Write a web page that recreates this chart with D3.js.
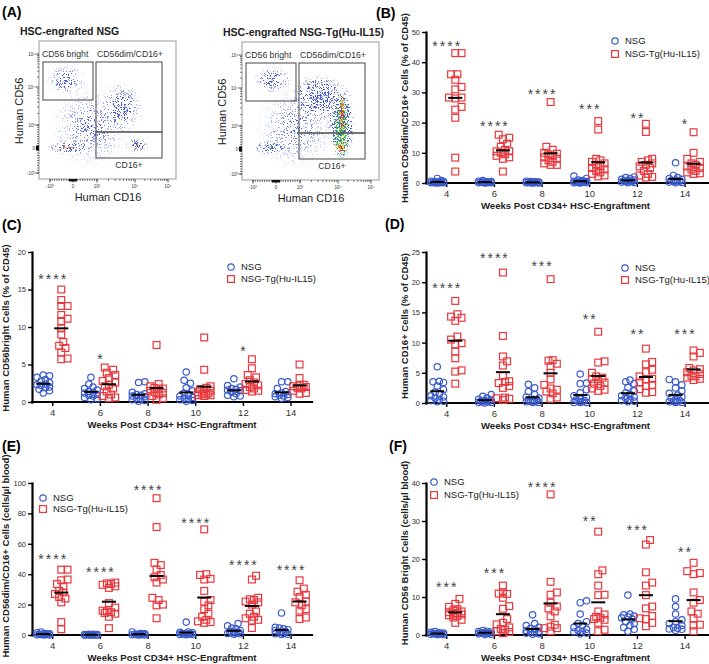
<!DOCTYPE html>
<html>
<head>
<meta charset="utf-8">
<script src="https://cdn.jsdelivr.net/npm/d3@7"></script>
<style>
  body { margin: 0; background: #fff; }
  svg { display: block; font-family: "Liberation Sans", Arial, sans-serif; }
</style>
</head>
<body>
<svg id="fig" width="709" height="664"></svg>
<script>
const weeks = [4, 6, 8, 10, 12, 14];

// (B) CD56dim/CD16+ cells, % of CD45
const bNSG = [
  [1.5, 0.8, 0.6, 0.5, 0.4, 0.3, 0.3, 0.2, 0.2, 0.1, 0.1, 0.1, 0.1, 0.0],
  [0.8, 0.6, 0.5, 0.4, 0.3, 0.3, 0.2, 0.2, 0.1, 0.1, 0.1, 0.0],
  [0.6, 0.5, 0.4, 0.3, 0.3, 0.2, 0.2, 0.1, 0.1, 0.1, 0.0, 0.0],
  [2.3, 1.5, 1.0, 0.8, 0.6, 0.5, 0.4, 0.3, 0.3, 0.2, 0.2, 0.1, 0.1, 0.0],
  [2.0, 1.8, 1.5, 1.2, 1.0, 0.8, 0.7, 0.5, 0.5, 0.4, 0.3, 0.2, 0.1],
  [6.7, 2.5, 1.8, 1.5, 1.2, 1.0, 0.8, 0.6, 0.5, 0.4, 0.3, 0.2, 0.1]
];
const bIL15 = [
  [43, 43, 36, 36, 34.2, 31.8, 31, 28.3, 28.3, 28, 25.2, 24.3, 21.6, 8.4, 3.8],
  [16, 15, 14.5, 13, 12, 11, 10.5, 10.5, 10, 9.5, 9, 8.5, 8, 3.8],
  [26.8, 12, 11, 10, 9.7, 9.5, 9, 8.5, 8, 7.5, 7, 6.5, 6, 6],
  [20.5, 17.7, 8, 7.5, 7, 6.5, 6, 5.5, 5, 4.5, 4, 3.5, 3, 2.5, 2.2],
  [19.6, 16.9, 8, 7.5, 7, 6.5, 6, 5.5, 5, 4, 3, 2.5, 2, 1.8],
  [16.8, 10, 8, 7, 6.5, 6, 5.5, 5, 4.5, 4, 3.5, 3.2, 3]
];
const bStars = ["****", "****", "****", "***", "**", "*"];
const bStarY = [46.4, 19.9, 30.5, 25.5, 22.5, 20.5];

// (C) CD56bright cells, % of CD45
const cNSG = [
  [3.6, 3.5, 3.3, 3.0, 2.8, 2.6, 2.4, 2.3, 2.2, 2.0, 1.9, 1.7, 1.5, 1.2],
  [3.3, 2.4, 2.0, 1.8, 1.6, 1.4, 1.3, 1.2, 1.0, 0.9, 0.8, 0.6, 0.4, 0.3],
  [2.7, 2.6, 1.3, 1.1, 1.0, 0.9, 0.8, 0.7, 0.5, 0.4, 0.3, 0.2, 0.1],
  [4.0, 2.9, 2.5, 1.9, 1.5, 1.2, 1.0, 0.8, 0.6, 0.5, 0.4, 0.3, 0.2, 0.1],
  [3.1, 2.2, 2.0, 1.8, 1.7, 1.6, 1.5, 1.3, 1.1, 0.9, 0.8, 0.7],
  [2.7, 2.7, 1.8, 1.4, 1.2, 1.1, 1.0, 0.9, 0.8, 0.7, 0.6, 0.5]
];
const cIL15 = [
  [15, 13.6, 12.8, 12.8, 11.6, 11.1, 10.8, 9.8, 9, 8, 7.5, 7.2, 6.6, 5.8, 5.7],
  [4.6, 4.3, 3.9, 3.6, 3.2, 2.8, 2.6, 2.3, 2.1, 1.8, 1.4, 1.0, 0.8, 0.6, 0.5],
  [7.6, 2.4, 2.1, 1.9, 1.8, 1.7, 1.5, 1.3, 1.2, 1.0, 0.8, 0.5, 0.3],
  [8.6, 4.3, 2.1, 1.9, 1.7, 1.5, 1.4, 1.3, 1.2, 1.1, 1.0, 0.9, 0.9, 0.8],
  [5.7, 4.5, 3.6, 3.3, 2.9, 2.6, 2.4, 2.2, 2.0, 1.8, 1.6, 1.5, 1.4],
  [5.0, 3.2, 2.3, 2.2, 2.1, 2.0, 1.9, 1.8, 1.5, 1.2, 1.1]
];
const cStars = ["****", "*", "", "", "*", ""];
const cStarY = [16.8, 6.1, 0, 0, 7.2, 0];

// (D) CD16+ cells, % of CD45
const dNSG = [
  [6.0, 3.6, 3.5, 3.4, 2.8, 2.2, 1.8, 1.5, 1.2, 1.0, 0.8, 0.6, 0.4, 0.3, 0.2],
  [1.4, 1.1, 0.8, 0.6, 0.5, 0.4, 0.3, 0.3, 0.2, 0.2, 0.1, 0.1, 0.0],
  [3.1, 2.5, 1.9, 1.4, 1.0, 0.8, 0.6, 0.5, 0.4, 0.3, 0.2, 0.2, 0.1, 0.1],
  [4.8, 3.3, 3.2, 2.2, 1.7, 1.2, 0.9, 0.7, 0.5, 0.4, 0.3, 0.2, 0.1, 0.1, 0.1],
  [3.8, 3.5, 3.2, 2.6, 2.0, 1.7, 1.4, 1.2, 1.0, 0.8, 0.6, 0.4, 0.3, 0.2],
  [3.9, 3.5, 3.0, 2.5, 2.0, 1.6, 1.3, 1.0, 0.8, 0.6, 0.4, 0.3, 0.2, 0.2, 0.1, 0.1]
];
const dIL15 = [
  [16.9, 14.7, 14.3, 14.1, 13.6, 11.0, 10.5, 9.9, 9.7, 8.5, 7.4, 5.4, 5.2, 3.2],
  [21.6, 11.1, 7.7, 6.9, 6.2, 4.5, 3.6, 3.5, 3.3, 2.8, 2.5, 0.9, 0.8, 0.7, 0.5],
  [20.5, 7.1, 7.0, 6.5, 6.1, 5.0, 3.9, 3.0, 2.4, 2.2, 1.9, 1.6, 0.9, 0.7],
  [11.8, 6.9, 6.7, 5.0, 4.4, 4.2, 4.0, 3.6, 3.4, 3.2, 2.8, 2.4, 2.2, 2.0],
  [9.0, 6.8, 6.4, 5.5, 5.1, 4.4, 4.0, 3.9, 3.4, 3.0, 2.8, 2.3, 1.8, 1.7],
  [8.7, 8.3, 7.7, 5.8, 5.6, 5.4, 5.1, 4.8, 4.5, 4.4, 4.2, 4.0, 3.8]
];
const dStars = ["****", "****", "***", "**", "**", "***"];
const dStarY = [19.5, 24.5, 23.2, 14.4, 11.9, 11.9];

// (E) CD56dim/CD16+ cells per ul blood
const eNSG = [
  [2.0, 1.5, 1.0, 0.8, 0.6, 0.5, 0.4, 0.3, 0.2, 0.2, 0.1, 0.1],
  [0.5, 0.4, 0.3, 0.3, 0.2, 0.2, 0.1, 0.1, 0.1, 0.0, 0.0, 0.0],
  [2.0, 1.0, 0.8, 0.6, 0.5, 0.4, 0.3, 0.2, 0.2, 0.1, 0.1],
  [8.5, 2.0, 1.8, 1.5, 1.2, 1.0, 0.8, 0.6, 0.5, 0.4, 0.3, 0.2],
  [7.5, 6.0, 4.5, 4.0, 3.0, 2.5, 2.0, 1.8, 1.5, 1.2, 1.0, 0.8, 0.5],
  [14.5, 5.0, 4.5, 4.0, 3.5, 3.0, 2.5, 2.0, 1.5, 1.0, 0.8, 0.5, 0.3]
];
const eIL15 = [
  [43, 43, 36.5, 36, 33.5, 32, 29, 28, 27, 25, 24, 21.5, 8.5, 3.8],
  [34.5, 34, 33.5, 33, 32, 31, 21, 18, 16, 15.5, 15, 14.5, 14, 12, 4.5],
  [90, 71, 47.5, 46, 43, 39.5, 38, 36.5, 34.5, 24.5, 23, 20, 19.5, 11],
  [69.5, 40, 39.5, 37, 36.5, 29, 23, 22, 19.5, 17, 14, 12, 10, 9, 8.5, 8],
  [39, 36.5, 24.5, 23.5, 23, 22, 21.5, 20, 15.5, 14, 12, 11, 10, 9.5, 4.6],
  [36, 30.5, 28.5, 26.5, 25, 22, 21.5, 19.5, 17, 16, 11.5, 10.5]
];
const eStars = ["****", "****", "****", "****", "****", "****"];
const eStarY = [52, 43.4, 97.4, 75.7, 48, 44.7];

// (F) CD56 bright cells per ul blood
const fNSG = [
  [0.9, 0.7, 0.6, 0.5, 0.4, 0.4, 0.3, 0.3, 0.2, 0.2, 0.1, 0.1],
  [1.2, 1.0, 0.9, 0.8, 0.7, 0.6, 0.5, 0.5, 0.4, 0.3, 0.2, 0.1],
  [5.3, 3.0, 2.5, 2.0, 1.7, 1.5, 1.2, 1.0, 0.8, 0.6, 0.5, 0.3, 0.2],
  [9.0, 8.5, 5.5, 3.5, 3.0, 2.5, 2.0, 1.5, 1.2, 1.0, 0.8, 0.5, 0.3],
  [10.5, 5.5, 5.3, 5.0, 4.8, 4.5, 4.2, 3.5, 3.0, 2.5, 2.0, 1.5, 1.0],
  [9.5, 7.5, 5.5, 4.0, 3.5, 3.0, 2.5, 2.0, 1.8, 1.6, 1.5, 1.2]
];
const fIL15 = [
  [9.5, 8.2, 7.4, 6.8, 6.5, 6.2, 6.0, 5.8, 5.6, 5.4, 5.2, 5.0, 4.6, 4.0, 3.2],
  [13.0, 11.2, 10.9, 10.8, 9.8, 7.6, 6.9, 4.2, 3.2, 2.8, 2.0, 1.6, 1.4, 1.0, 0.8, 0.5],
  [37, 14, 11.2, 10.6, 8.5, 7.5, 7.0, 6.2, 4.9, 2.7, 2.2, 1.8, 1.8, 1.0],
  [27.2, 17, 16, 13, 10.6, 10.5, 6.2, 5.4, 4.8, 4.5, 4.2, 4.0, 3.2, 1.4, 1.0],
  [25, 23.8, 16.5, 13.8, 13.0, 10.5, 7.5, 7.0, 5.0, 4.4, 4.2, 3.2, 2.3],
  [19, 16.8, 16.3, 16, 11.2, 9.2, 8.5, 6.2, 5.6, 4.4, 2.7, 2.5, 1.0]
];
const fStars = ["***", "***", "****", "**", "***", "**"];
const fStarY = [13.4, 17.1, 39.7, 30.8, 28.4, 22.6];

// (A) flow plots: density clouds, in decade units of the biexponential axes
// [cd16, cd56, spread16, spread56, density, colour]
const flowTicks = [-1, 0, 1, 2, 3];
const flowTickLabels = ["-10\u00b3", "0", "10\u00b3", "10\u2074", "10\u2075"];
const nsgClouds = [
  [0.7, 0.9, 1.4, 1.4, 0.3, "blue"],
  [-0.3, 2.2, 0.9, 0.45, 0.5, "blue"],
  [-0.15, 0.02, 1.05, 0.3, 0.6, "blue"],
  [-0.25, 0.02, 0.4, 0.12, 0.5, "orange"],
  [1.65, 1.45, 0.6, 0.8, 0.45, "blue"],
  [2.05, 0.12, 0.35, 0.3, 0.65, "blue"],
  [2.08, 0.08, 0.12, 0.14, 0.6, "orange"]
];
const il15Clouds = [
  [0.8, 0.9, 1.4, 1.4, 0.3, "blue"],
  [-0.15, 2.25, 0.85, 0.4, 0.55, "blue"],
  [-0.25, 0.05, 0.75, 0.3, 0.7, "blue"],
  [-0.2, 0.05, 0.3, 0.12, 0.6, "green"],
  [1.5, 1.75, 0.8, 0.65, 0.85, "blue"],
  [2.1, 1.1, 0.4, 1.35, 1.0, "blue"],
  [2.1, 1.0, 0.28, 1.15, 1.0, "green"],
  [2.12, 1.2, 0.16, 0.85, 0.9, "yellow"],
  [2.12, 1.3, 0.08, 0.5, 0.65, "red"],
  [2.1, 0.1, 0.25, 0.32, 1.0, "yellow"],
  [2.1, 0.05, 0.14, 0.2, 0.9, "red"],
  [2.12, 1.5, 0.07, 0.35, 0.65, "orange"]
];

const blue = "#3b5bcc", red = "#e8383d";
const svg = d3.select("#fig");
const defs = svg.append("defs");

// ---------- panel A ----------
const cloudColors = { blue: "#4658e0", green: "#2fb84a", yellow: "#e2d81e", orange: "#f08c1e", red: "#e02222" };
const grad = defs.append("radialGradient").attr("id", "fall");
[[0, 1], [0.3, 0.65], [0.7, 0.25], [1, 0]].forEach(s =>
  grad.append("stop").attr("offset", s[0]).attr("stop-color", "#fff").attr("stop-opacity", s[1]));
// speckle: noise thresholded against the cloud's density
Object.entries(cloudColors).forEach(([k, c], i) => {
  const f = defs.append("filter").attr("id", "sp-" + k)
    .attr("x", "-20%").attr("y", "-20%").attr("width", "140%").attr("height", "140%");
  f.append("feTurbulence").attr("type", "fractalNoise").attr("baseFrequency", 1.7)
    .attr("numOctaves", 2).attr("seed", 3 + i * 5).attr("result", "n");
  f.append("feColorMatrix").attr("in", "n").attr("type", "matrix")
    .attr("values", "0 0 0 0 0  0 0 0 0 0  0 0 0 0 0  5 0 0 0 -1.8").attr("result", "na");
  f.append("feComposite").attr("in", "SourceGraphic").attr("in2", "na").attr("operator", "arithmetic")
    .attr("k1", 0).attr("k2", 4).attr("k3", -4).attr("k4", 0).attr("result", "m");
  f.append("feFlood").attr("flood-color", c).attr("result", "c");
  f.append("feComposite").attr("in", "c").attr("in2", "m").attr("operator", "in");
});

function flowPlot(fx, fy, title, clouds, id) {
  const g = svg.append("g");
  const w = 137, h = 138;
  const X = d3.scaleLinear().domain(flowTicks).range([11, 34, 58, 96, 129].map(v => fx + v));
  const Y = d3.scaleLinear().domain(flowTicks).range([132, 107, 84, 46, 13].map(v => fy + v));

  g.append("text").attr("x", fx - 19).attr("y", fy - 6).attr("font-size", 10.5)
    .attr("font-weight", "bold").attr("fill", "#222").text(title);

  defs.append("clipPath").attr("id", "clip-" + id)
    .append("rect").attr("x", fx).attr("y", fy).attr("width", w).attr("height", h);
  const cg = g.append("g").attr("clip-path", `url(#clip-${id})`);
  clouds.forEach(c => {
    const rx = Math.abs(X(c[0] + c[2]) - X(c[0] - c[2])) / 2;
    const ry = Math.abs(Y(c[1] + c[3]) - Y(c[1] - c[3])) / 2;
    cg.append("g").attr("filter", `url(#sp-${c[5]})`)
      .append("ellipse").attr("cx", X(c[0])).attr("cy", Y(c[1]))
      .attr("rx", rx).attr("ry", ry).attr("fill", "url(#fall)").attr("fill-opacity", c[4]);
  });

  g.append("rect").attr("x", fx).attr("y", fy).attr("width", w).attr("height", h)
    .attr("fill", "none").attr("stroke", "#999").attr("stroke-width", 1);

  // gates
  const gates = [[4, 21, 54, 59], [57, 21, 123, 91], [57, 91, 123, 117]];
  gates.forEach(b => g.append("rect").attr("x", fx + b[0]).attr("y", fy + b[1])
    .attr("width", b[2] - b[0]).attr("height", b[3] - b[1])
    .attr("fill", "none").attr("stroke", "#555").attr("stroke-width", 1.1));
  g.append("text").attr("x", fx + 3).attr("y", fy + 16).attr("font-size", 8.7).attr("fill", "#333").text("CD56 bright");
  g.append("text").attr("x", fx + 58).attr("y", fy + 16).attr("font-size", 8.7).attr("fill", "#333").text("CD56dim/CD16+");
  g.append("text").attr("x", fx + 90).attr("y", fy + 127).attr("font-size", 8.7).attr("fill", "#333")
    .attr("text-anchor", "middle").text("CD16+");

  // axis ticks (minor ticks dense round zero, log ticks above 10^3)
  const minor = d3.range(-1, 1.01, 0.1).concat(
    d3.merge([1, 2].map(dd => d3.range(2, 10).map(k => dd + Math.log10(k)))));
  minor.forEach(t => {
    g.append("line").attr("x1", fx).attr("x2", fx - 2).attr("y1", Y(t)).attr("y2", Y(t)).attr("stroke", "#222").attr("stroke-width", 0.6);
    g.append("line").attr("y1", fy + h).attr("y2", fy + h + 2).attr("x1", X(t)).attr("x2", X(t)).attr("stroke", "#222").attr("stroke-width", 0.6);
  });
  flowTicks.forEach((t, i) => {
    g.append("line").attr("x1", fx).attr("x2", fx - 3.5).attr("y1", Y(t)).attr("y2", Y(t)).attr("stroke", "#222").attr("stroke-width", 0.8);
    g.append("line").attr("y1", fy + h).attr("y2", fy + h + 3.5).attr("x1", X(t)).attr("x2", X(t)).attr("stroke", "#222").attr("stroke-width", 0.8);
    g.append("text").attr("x", fx - 4).attr("y", Y(t) + 1.5).attr("font-size", 4.5).attr("text-anchor", "end")
      .attr("fill", "#333").text(flowTickLabels[i]);
    g.append("text").attr("x", X(t)).attr("y", fy + h + 9).attr("font-size", 4.5).attr("text-anchor", "middle")
      .attr("fill", "#333").text(flowTickLabels[i]);
  });
  g.append("rect").attr("x", fx - 3).attr("y", Y(0) - 2.5).attr("width", 3).attr("height", 5).attr("fill", "#111");
  g.append("rect").attr("x", X(0) - 4).attr("y", fy + h).attr("width", 8).attr("height", 2.5).attr("fill", "#111");

  g.append("text").attr("x", fx + 69).attr("y", fy + h + 22).attr("font-size", 11).attr("fill", "#222")
    .attr("text-anchor", "middle").text("Human CD16");
  g.append("text").attr("transform", `translate(${fx - 20},${fy + 70}) rotate(-90)`)
    .attr("font-size", 11).attr("fill", "#222").attr("text-anchor", "middle").attr("dy", "0.35em").text("Human CD56");
}

svg.append("text").attr("x", 2).attr("y", 17).attr("font-size", 14).attr("font-weight", "bold").text("(A)");
flowPlot(39, 41, "HSC-engrafted NSG", nsgClouds, "nsg");
flowPlot(242, 42, "HSC-engrafted NSG-Tg(Hu-IL15)", il15Clouds, "il15");

// ---------- dot-plot panels ----------
function swarm(vals, y, cx, r, maxW) {
  const placed = [];
  return vals.map((v, i) => ({ v, i })).sort((a, b) => a.v - b.v).map(d => {
    const py = y(d.v);
    let best = 0, bestScore = -1;
    for (let k = 0; k <= 10; k++) {
      for (const s of (k === 0 ? [0] : [k, -k])) {
        const dx = s * r * 0.6;
        if (Math.abs(dx) > maxW) continue;
        let minD = Infinity;
        placed.forEach(p => { minD = Math.min(minD, Math.hypot(p.x - dx, p.y - py)); });
        if (minD >= 2 * r * 0.8) { best = dx; bestScore = Infinity; break; }
        if (minD > bestScore) { bestScore = minD; best = dx; }
      }
      if (bestScore === Infinity) break;
    }
    placed.push({ x: best, y: py });
    return { v: d.v, x: cx + best, y: py };
  });
}

const panels = [
  { label: "(B)", lx: 376, ly: 18, ax: 426, axEnd: 709, yTop: 32, yBot: 183, yMax: 50, yStep: 10,
    ytitle: "Human CD56dim/CD16+ Cells (% of CD45)", ytx: 405, yty: 108,
    nsg: bNSG, il: bIL15, stars: bStars, starY: bStarY, leg: [615, 41, 13] },
  { label: "(C)", lx: 2, ly: 230, ax: 32, axEnd: 312, yTop: 252, yBot: 402, yMax: 20, yStep: 5,
    ytitle: "Human CD56bright Cells (% of CD45)", ytx: 6, yty: 328,
    nsg: cNSG, il: cIL15, stars: cStars, starY: cStarY, leg: [231, 267, 12] },
  { label: "(D)", lx: 385, ly: 229, ax: 426, axEnd: 709, yTop: 252, yBot: 403, yMax: 25, yStep: 5,
    ytitle: "Human CD16+ Cells (% of CD45)", ytx: 405, yty: 326,
    nsg: dNSG, il: dIL15, stars: dStars, starY: dStarY, leg: [625, 268, 12] },
  { label: "(E)", lx: 2, ly: 451, ax: 32, axEnd: 312, yTop: 483, yBot: 635, yMax: 100, yStep: 20,
    ytitle: "Human CD56dim/CD16+ Cells (cells/\u00b5l blood)", ytx: 6, yty: 556,
    nsg: eNSG, il: eIL15, stars: eStars, starY: eStarY, leg: [43, 498, 11] },
  { label: "(F)", lx: 389, ly: 451, ax: 426, axEnd: 709, yTop: 483, yBot: 635, yMax: 40, yStep: 10,
    ytitle: "Human CD56 Bright Cells (cells/\u00b5l blood)", ytx: 405, yty: 553,
    nsg: fNSG, il: fIL15, stars: fStars, starY: fStarY, leg: [434, 482, 13] }
];

panels.forEach(p => {
  const g = svg.append("g");
  const x = d3.scaleLinear().domain([3.15, 14.9]).range([p.ax, p.ax + 280]);
  const y = d3.scaleLinear().domain([0, p.yMax]).range([p.yBot, p.yTop]);

  g.append("text").attr("x", p.lx).attr("y", p.ly).attr("font-size", 14).attr("font-weight", "bold").text(p.label);

  const ya = g.append("g").attr("transform", `translate(${p.ax},0)`)
    .call(d3.axisLeft(y).tickValues(d3.range(0, p.yMax + 0.001, p.yStep)).tickSize(4).tickSizeOuter(0).tickPadding(2));
  const xa = g.append("g").attr("transform", `translate(0,${p.yBot})`)
    .call(d3.axisBottom(x).tickValues(weeks).tickSize(4).tickSizeOuter(0).tickPadding(3));
  xa.select(".domain").attr("d", `M${p.ax},0H${p.axEnd}`);
  [ya, xa].forEach(a => {
    a.select(".domain").attr("stroke", "#000").attr("stroke-width", 2.2).attr("stroke-linecap", "square");
    a.selectAll(".tick line").attr("stroke", "#000").attr("stroke-width", 1.4);
  });
  ya.selectAll(".tick text").attr("font-size", 7.5).attr("fill", "#333").attr("font-family", null);
  xa.selectAll(".tick text").attr("font-size", 9.5).attr("fill", "#333").attr("font-family", null);

  g.append("text").attr("x", (p.ax + p.axEnd) / 2 + (p.ax === 32 ? 0 : -2))
    .attr("y", p.yBot + 26).attr("text-anchor", "middle").attr("font-size", 9.6).attr("font-weight", "bold")
    .attr("fill", "#222").text("Weeks Post CD34+ HSC-Engraftment");
  g.append("text").attr("transform", `translate(${p.ytx},${p.yty}) rotate(-90)`).attr("dy", "0.35em")
    .attr("text-anchor", "middle").attr("font-size", 9.5).attr("font-weight", "bold").attr("fill", "#222")
    .text(p.ytitle);

  weeks.forEach((wk, i) => {
    const groups = [
      { vals: p.nsg[i], cx: x(wk) - 9, shape: "circle" },
      { vals: p.il[i], cx: x(wk) + 9, shape: "square" }
    ];
    groups.forEach(gr => {
      const pts = swarm(gr.vals, y, gr.cx, 3.5, 6.5);
      if (gr.shape === "circle") {
        g.selectAll(null).data(pts).join("circle")
          .attr("cx", d => d.x).attr("cy", d => d.y).attr("r", 3.2)
          .attr("fill", "none").attr("stroke", blue).attr("stroke-width", 1.2);
      } else {
        g.selectAll(null).data(pts).join("rect")
          .attr("x", d => d.x - 3.4).attr("y", d => d.y - 3.4).attr("width", 6.8).attr("height", 6.8)
          .attr("fill", "none").attr("stroke", red).attr("stroke-width", 1.2);
      }
      const m = y(d3.mean(gr.vals));
      g.append("line").attr("x1", gr.cx - 7).attr("x2", gr.cx + 7).attr("y1", m).attr("y2", m)
        .attr("stroke", "#000").attr("stroke-width", 2);
    });
    if (p.stars[i]) {
      g.append("text").attr("x", x(wk) + 1).attr("y", y(p.starY[i]) + 8)
        .attr("text-anchor", "middle").attr("font-size", 14).attr("letter-spacing", 2)
        .attr("fill", "#444").text(p.stars[i]);
    }
  });

  // legend
  const [lx, ly, ls] = p.leg;
  g.append("circle").attr("cx", lx).attr("cy", ly).attr("r", 3.2).attr("fill", "none").attr("stroke", blue).attr("stroke-width", 1.2);
  g.append("rect").attr("x", lx - 3.4).attr("y", ly + ls - 3.4).attr("width", 6.8).attr("height", 6.8)
    .attr("fill", "none").attr("stroke", red).attr("stroke-width", 1.2);
  g.append("text").attr("x", lx + 10).attr("y", ly + 3.3).attr("font-size", 9.5).attr("fill", "#222").text("NSG");
  g.append("text").attr("x", lx + 10).attr("y", ly + ls + 3.3).attr("font-size", 9.5).attr("fill", "#222").text("NSG-Tg(Hu-IL15)");
});
</script>
</body>
</html>
